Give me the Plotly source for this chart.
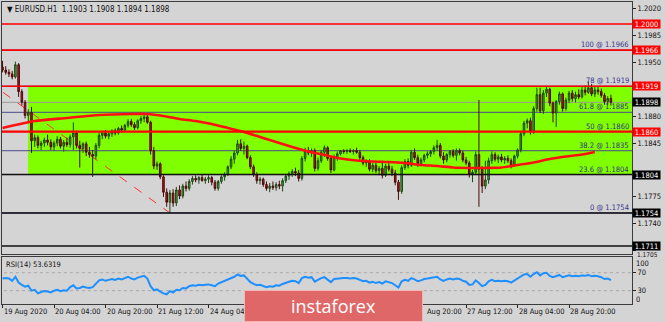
import plotly.graph_objects as go

# ---------------- data ----------------
bars = list(range(190))

opens = [
    1.1944,1.1940,1.1937,1.1935,1.1931,1.1947,1.1912,1.1898,1.1881,1.1885,
    1.1848,1.1852,1.1842,1.1845,1.1849,1.1846,1.1840,1.1845,1.1850,1.1841,
    1.1846,1.1843,1.1853,1.1858,1.1842,1.1838,1.1844,1.1833,1.1830,1.1828,
    1.1842,1.1855,1.1858,1.1854,1.1857,1.1861,1.1858,1.1864,1.1862,1.1868,
    1.1873,1.1869,1.1865,1.1874,1.1877,1.1879,1.1872,1.1835,1.1815,1.1818,
    1.1801,1.1781,1.1768,1.1780,1.1767,1.1784,1.1776,1.1789,1.1786,1.1795,
    1.1799,1.1797,1.1800,1.1796,1.1798,1.1800,1.1794,1.1786,1.1795,1.1801,
    1.1804,1.1814,1.1824,1.1832,1.1844,1.1838,1.1841,1.1826,1.1814,1.1804,
    1.1796,1.1798,1.1791,1.1786,1.1789,1.1787,1.1791,1.1789,1.1796,1.1802,
    1.1805,1.1808,1.1806,1.1799,1.1825,1.1835,1.1832,1.1835,1.1812,1.1822,
    1.1833,1.1839,1.1825,1.1810,1.1826,1.1831,1.1835,1.1834,1.1835,1.1834,
    1.1835,1.1833,1.1826,1.1819,1.1821,1.1811,1.1816,1.1809,1.1812,1.1803,
    1.1815,1.1811,1.1806,1.1794,1.1782,1.1813,1.1821,1.1816,1.1833,1.1826,
    1.1818,1.1823,1.1829,1.1831,1.1834,1.1839,1.1842,1.1828,1.1823,1.1830,
    1.1834,1.1829,1.1835,1.1832,1.1823,1.1819,1.1804,1.1807,1.1830,1.1811,
    1.1789,1.1797,1.1822,1.1830,1.1824,1.1827,1.1823,1.1825,1.1822,1.1816,
    1.1828,1.1836,1.1857,1.1871,1.1874,1.1860,1.1890,1.1908,1.1887,1.1910,
    1.1915,1.1897,1.1884,1.1899,1.1909,1.1890,1.1901,1.1910,1.1903,1.1908,
    1.1905,1.1914,1.1911,1.1917,1.1909,1.1914,1.1912,1.1907,1.1899,1.1903,
]
highs = [
    1.1952,1.1945,1.1941,1.1939,1.1951,1.1949,1.1915,1.1901,1.1889,1.1892,
    1.1856,1.1855,1.1848,1.1852,1.1856,1.1850,1.1848,1.1854,1.1853,1.1849,
    1.1852,1.1856,1.1872,1.1861,1.1848,1.1846,1.1847,1.1840,1.1836,1.1845,
    1.1858,1.1861,1.1862,1.1860,1.1863,1.1864,1.1866,1.1868,1.1870,1.1876,
    1.1876,1.1872,1.1876,1.1880,1.1883,1.1882,1.1874,1.1840,1.1821,1.1820,
    1.1803,1.1786,1.1784,1.1785,1.1788,1.1790,1.1792,1.1795,1.1798,1.1802,
    1.1803,1.1802,1.1804,1.1801,1.1803,1.1802,1.1797,1.1797,1.1803,1.1807,
    1.1816,1.1828,1.1835,1.1849,1.1850,1.1847,1.1843,1.1829,1.1817,1.1807,
    1.1801,1.1800,1.1795,1.1793,1.1795,1.1794,1.1796,1.1799,1.1805,1.1808,
    1.1811,1.1813,1.1810,1.1828,1.1839,1.1840,1.1838,1.1838,1.1826,1.1836,
    1.1842,1.1841,1.1828,1.1830,1.1834,1.1836,1.1837,1.1837,1.1838,1.1837,
    1.1839,1.1836,1.1829,1.1824,1.1824,1.1819,1.1820,1.1815,1.1822,1.1818,
    1.1819,1.1815,1.1810,1.1797,1.1816,1.1824,1.1825,1.1836,1.1838,1.1830,
    1.1826,1.1831,1.1834,1.1836,1.1842,1.1849,1.1845,1.1833,1.1832,1.1836,
    1.1837,1.1838,1.1838,1.1835,1.1827,1.1822,1.1810,1.1834,1.1901,1.1815,
    1.1822,1.1826,1.1834,1.1833,1.1830,1.1831,1.1828,1.1829,1.1825,1.1830,
    1.1838,1.1860,1.1874,1.1877,1.1878,1.1893,1.1917,1.1917,1.1914,1.1918,
    1.1917,1.1899,1.1901,1.1912,1.1911,1.1904,1.1913,1.1914,1.1912,1.1915,
    1.1918,1.1920,1.1925,1.1922,1.1918,1.1919,1.1916,1.1910,1.1906,1.1908,
]
lows = [
    1.1937,1.1934,1.1931,1.1928,1.1929,1.1905,1.1894,1.1877,1.1873,1.1832,
    1.1840,1.1838,1.1836,1.1840,1.1842,1.1836,1.1835,1.1841,1.1838,1.1834,
    1.1840,1.1839,1.1836,1.1838,1.1813,1.1832,1.1828,1.1826,1.1801,1.1824,
    1.1838,1.1850,1.1851,1.1850,1.1853,1.1855,1.1856,1.1859,1.1860,1.1865,
    1.1866,1.1862,1.1863,1.1870,1.1872,1.1870,1.1830,1.1811,1.1810,1.1798,
    1.1775,1.1762,1.1754,1.1762,1.1763,1.1772,1.1773,1.1782,1.1783,1.1791,
    1.1794,1.1792,1.1795,1.1792,1.1793,1.1790,1.1783,1.1783,1.1792,1.1796,
    1.1802,1.1811,1.1818,1.1829,1.1835,1.1830,1.1824,1.1811,1.1801,1.1792,
    1.1791,1.1788,1.1783,1.1781,1.1784,1.1783,1.1785,1.1782,1.1793,1.1797,
    1.1801,1.1802,1.1795,1.1796,1.1821,1.1829,1.1827,1.1808,1.1809,1.1819,
    1.1827,1.1822,1.1806,1.1808,1.1822,1.1829,1.1831,1.1831,1.1832,1.1830,
    1.1831,1.1823,1.1816,1.1814,1.1808,1.1807,1.1806,1.1803,1.1799,1.1801,
    1.1808,1.1802,1.1790,1.1771,1.1779,1.1810,1.1812,1.1814,1.1823,1.1814,
    1.1815,1.1820,1.1825,1.1827,1.1830,1.1835,1.1825,1.1818,1.1820,1.1826,
    1.1826,1.1822,1.1829,1.1820,1.1816,1.1800,1.1794,1.1804,1.1762,1.1780,
    1.1785,1.1792,1.1818,1.1821,1.1819,1.1820,1.1818,1.1819,1.1812,1.1814,
    1.1825,1.1833,1.1854,1.1864,1.1856,1.1857,1.1886,1.1884,1.1883,1.1905,
    1.1893,1.1872,1.1866,1.1895,1.1886,1.1887,1.1897,1.1899,1.1898,1.1902,
    1.1903,1.1907,1.1909,1.1906,1.1905,1.1908,1.1904,1.1895,1.1894,1.1894,
]
closes = [
    1.1940,1.1937,1.1935,1.1931,1.1947,1.1912,1.1898,1.1881,1.1885,1.1848,
    1.1852,1.1842,1.1845,1.1849,1.1846,1.1840,1.1845,1.1850,1.1841,1.1846,
    1.1843,1.1853,1.1858,1.1842,1.1838,1.1844,1.1833,1.1830,1.1828,1.1842,
    1.1855,1.1858,1.1854,1.1857,1.1861,1.1858,1.1864,1.1862,1.1868,1.1873,
    1.1869,1.1865,1.1874,1.1877,1.1879,1.1872,1.1835,1.1815,1.1818,1.1801,
    1.1781,1.1768,1.1780,1.1767,1.1784,1.1776,1.1789,1.1786,1.1795,1.1799,
    1.1797,1.1800,1.1796,1.1798,1.1800,1.1794,1.1786,1.1795,1.1801,1.1804,
    1.1814,1.1824,1.1832,1.1844,1.1838,1.1841,1.1826,1.1814,1.1804,1.1796,
    1.1798,1.1791,1.1786,1.1789,1.1787,1.1791,1.1789,1.1796,1.1802,1.1805,
    1.1808,1.1806,1.1799,1.1825,1.1835,1.1832,1.1835,1.1812,1.1822,1.1833,
    1.1839,1.1825,1.1810,1.1826,1.1831,1.1835,1.1834,1.1835,1.1834,1.1835,
    1.1833,1.1826,1.1819,1.1821,1.1811,1.1816,1.1809,1.1812,1.1803,1.1815,
    1.1811,1.1806,1.1794,1.1782,1.1813,1.1821,1.1816,1.1833,1.1826,1.1818,
    1.1823,1.1829,1.1831,1.1834,1.1839,1.1842,1.1828,1.1823,1.1830,1.1834,
    1.1829,1.1835,1.1832,1.1823,1.1819,1.1804,1.1807,1.1830,1.1811,1.1789,
    1.1797,1.1822,1.1830,1.1824,1.1827,1.1823,1.1825,1.1822,1.1816,1.1828,
    1.1836,1.1857,1.1871,1.1874,1.1860,1.1890,1.1908,1.1887,1.1910,1.1915,
    1.1897,1.1884,1.1899,1.1909,1.1890,1.1901,1.1910,1.1903,1.1908,1.1905,
    1.1914,1.1911,1.1917,1.1909,1.1914,1.1912,1.1907,1.1899,1.1903,1.1898,
]
rsi = [
    57,58,57,52,61,48,43,39,41,30,
    32,24,27,29,28,26,30,32,29,31,
    30,38,42,35,36,39,37,36,38,46,
    53,55,52,54,56,54,57,55,58,61,
    57,55,59,61,63,57,40,31,33,28,
    24,22,29,26,32,31,36,35,40,42,
    41,43,42,43,44,42,40,46,49,51,
    55,58,61,66,63,64,56,49,45,42,
    43,41,38,40,39,42,41,45,48,50,
    52,51,47,58,61,59,60,50,54,58,
    60,54,49,56,57,58,58,58,57,58,
    57,54,51,52,48,50,47,49,46,51,
    49,47,42,37,51,54,52,58,55,51,
    53,56,57,58,60,61,55,52,55,57,
    55,57,56,52,50,43,44,53,47,40,
    43,51,54,51,52,51,52,51,48,53,
    56,62,66,67,61,67,71,64,69,70,
    63,60,63,65,60,62,64,62,63,62,
    64,63,65,62,63,62,60,56,57,53.63,
]
ma_bar = [0,10,20,30,40,45,50,55,60,65,70,75,80,85,90,95,100,105,110,115,
          120,125,130,135,140,145,150,155,160,165,170,175,180,184]
ma_val = [1.18646,1.18737,1.18777,1.18816,1.18829,1.18829,1.18803,1.18764,1.18737,1.18698,
          1.18646,1.18594,1.18529,1.18464,1.18399,1.18340,1.18295,1.18249,1.18223,1.18210,
          1.18204,1.18191,1.18165,1.18152,1.18132,1.18126,1.18126,1.18132,1.18165,1.18197,
          1.18243,1.18275,1.18301,1.18334]

fib_pct = ["100", "78", "61.8", "50", "38.2", "23.6", "0"]
fib_price = [1.1966, 1.1919, 1.1885, 1.1860, 1.1835, 1.1804, 1.1754]
fib_anchor_bar = [-18, 52]
fib_anchor_price = [1.1966, 1.1754]
red_levels = [1.2000, 1.1966, 1.1919, 1.1860]
black_levels = [1.1804, 1.1754, 1.1711]
current_price = 1.1898
zone_start_bar = 7.9
zone_top, zone_bottom = 1.1919, 1.1804
tag_levels = [1.2000, 1.1966, 1.1919, 1.1898, 1.1860, 1.1804, 1.1754, 1.1711]
tag_red = [True, True, True, False, True, False, False, False]
price_ticks = [1.2020, 1.1985, 1.1950, 1.1880, 1.1845, 1.1775, 1.1740, 1.1705]
low_tick = 1.1705   # partly covered by the 1.1711 tag, drawn just below it
# labels partly hidden by the watermark are shown as the visible part only
time_ticks = [0, 16, 32, 48, 64, 80, 96, 112, 128, 144, 160, 176]
time_label_bar = [0, 16, 32, 48, 64, 131.5, 144, 160, 176]
time_labels = ["19 Aug 2020", "20 Aug 04:00", "20 Aug 20:00", "21 Aug 12:00", "24 Aug 04",
               "Aug 20:00", "27 Aug 12:00", "28 Aug 04:00", "28 Aug 20:00"]
rsi_levels = [70, 30]
rsi_edge_labels = [("100", 92), ("0", 11)]
title_text = "EURUSD.H1  1.1903 1.1908 1.1894 1.1898"
rsi_text = "RSI(14) 53.6319"

# ---------------- style ----------------
BG = "#d4d4d4"
FONT = "DejaVu Sans Condensed, DejaVu Sans, sans-serif"
FS = 7.5
MAIN_DOM = [0.1656, 1.0]
RSI_DOM = [0.0, 0.1556]
XR = [-0.16, 195.55]

fig = go.Figure()

fig.add_trace(go.Candlestick(
    x=bars, open=opens, high=highs, low=lows, close=closes,
    xaxis="x", yaxis="y",
    increasing=dict(fillcolor="#4aa33c", line=dict(color="#1d4a14", width=1)),
    decreasing=dict(fillcolor="#c8141a", line=dict(color="#4a0a0a", width=1)),
    whiskerwidth=0, hoverinfo="skip", showlegend=False,
))
fig.add_trace(go.Scatter(
    x=ma_bar, y=ma_val, mode="lines", xaxis="x", yaxis="y",
    line=dict(color="#ff1010", width=2.6, shape="spline", smoothing=0.6),
    hoverinfo="skip", showlegend=False,
))
fig.add_trace(go.Scatter(
    x=bars, y=rsi, mode="lines", xaxis="x2", yaxis="y2",
    line=dict(color="#1e8fff", width=2),
    hoverinfo="skip", showlegend=False,
))

shapes = []
def hline(p, color, width, layer, dash="solid"):
    shapes.append(dict(type="line", xref="x", yref="y", x0=XR[0] - 5, x1=XR[1] + 5,
                       y0=p, y1=p, line=dict(color=color, width=width, dash=dash),
                       layer=layer))

shapes.append(dict(type="rect", xref="x", yref="y", x0=zone_start_bar, x1=XR[1] + 5,
                   y0=zone_bottom, y1=zone_top, fillcolor="#80ff00", line=dict(width=0),
                   layer="below"))
shapes.append(dict(type="line", xref="x", yref="y", x0=fib_anchor_bar[0], x1=fib_anchor_bar[1],
                   y0=fib_anchor_price[0], y1=fib_anchor_price[1],
                   line=dict(color="#ff3030", width=1, dash="dash"), layer="below"))
for p in fib_price:
    hline(p, "#4b4b8c", 1, "below")
hline(current_price, "#9a9a9a", 1, "below")
for p in red_levels:
    hline(p, "#ff0000", 2.2 if p == 1.1860 else 1.6, "above")
for p in black_levels:
    hline(p, "#111111", 1.6, "above")
for lv in rsi_levels:
    shapes.append(dict(type="line", xref="x2", yref="y2", x0=XR[0] - 5, x1=XR[1] + 5,
                       y0=lv, y1=lv, line=dict(color="#a8a8a8", width=1, dash="dot"),
                       layer="below"))

ann = []
ann.append(dict(xref="paper", yref="paper", x=0, y=1, xanchor="left", yanchor="top",
                xshift=3, yshift=-1, showarrow=False,
                text="\u25bc " + title_text, font=dict(family=FONT, size=8, color="#111")))
ann.append(dict(xref="paper", yref="paper", x=0, y=RSI_DOM[1], xanchor="left", yanchor="top",
                xshift=2, yshift=-1, showarrow=False,
                text=rsi_text, font=dict(family=FONT, size=FS, color="#111")))
for pct, p in zip(fib_pct, fib_price):
    ann.append(dict(xref="paper", yref="y", x=1, y=p, xanchor="right", yanchor="bottom",
                    xshift=-1, yshift=-1, showarrow=False,
                    text=f"{pct} @ {p:.4f}", font=dict(family=FONT, size=FS, color="#34348c")))
ann.append(dict(xref="paper", yref="y", x=1, y=low_tick, xanchor="left", yanchor="middle",
                xshift=4, yshift=-3.4, showarrow=False, text=f"{low_tick:.4f}",
                height=7, borderpad=0,
                font=dict(family=FONT, size=6.5, color="#111")))
for p, red in zip(tag_levels, tag_red):
    ann.append(dict(xref="paper", yref="y", x=1, y=p, xanchor="left", yanchor="middle",
                    xshift=0, showarrow=False, text=f"{p:.4f}", height=8,
                    bgcolor="#ff0000" if red else "#000000", borderpad=0, width=27,
                    font=dict(family=FONT, size=FS, color="#ffffff")))
for txt, val in rsi_edge_labels:
    ann.append(dict(xref="paper", yref="y2", x=1, y=val, xanchor="left", yanchor="middle",
                    xshift=3, showarrow=False, text=txt, height=8, borderpad=0,
                    font=dict(family=FONT, size=FS, color="#111")))
for t, lab in zip(time_label_bar, time_labels):
    ann.append(dict(xref="x2", yref="paper", x=t, y=-0.024, xanchor="left", yanchor="middle",
                    xshift=-1, showarrow=False, text=lab,
                    font=dict(family=FONT, size=FS, color="#111")))
ann.append(dict(xref="paper", yref="paper", x=0.526, y=0.0464, xanchor="center", yanchor="top",
                showarrow=False, text="instaforex", width=177, height=30, borderpad=0,
                bgcolor="#e06767", bordercolor="#f3b5b5", borderwidth=1,
                font=dict(family="Open Sans, sans-serif", size=18, color="#ffffff")))

axis_line = dict(showline=True, mirror=True, linecolor="#3c3c3c", linewidth=1,
                 showgrid=False, zeroline=False)

fig.update_layout(
    width=665, height=322,
    margin=dict(l=2, r=33, t=2, b=18),
    paper_bgcolor=BG, plot_bgcolor=BG,
    showlegend=False,
    shapes=shapes, annotations=ann,
    font=dict(family=FONT, size=FS, color="#111"),
    xaxis=dict(domain=[0, 1], anchor="y", range=XR, showticklabels=False,
               ticks="", rangeslider=dict(visible=False), **axis_line),
    yaxis=dict(domain=MAIN_DOM, anchor="x", side="right", range=[1.17006, 1.20286],
               tickvals=price_ticks,
               ticktext=["" if v == low_tick else f"{v:.4f}" for v in price_ticks],
               ticks="outside", ticklen=3, tickcolor="#222",
               tickfont=dict(family=FONT, size=FS, color="#111"), **axis_line),
    xaxis2=dict(domain=[0, 1], anchor="y2", matches="x", range=XR,
                tickvals=time_ticks, showticklabels=False, ticks="outside", ticklen=3,
                tickcolor="#222", **axis_line),
    yaxis2=dict(domain=RSI_DOM, anchor="x2", side="right", range=[0.4, 104.9],
                tickvals=rsi_levels, ticktext=[str(v) for v in rsi_levels],
                ticks="outside", ticklen=3, tickcolor="#222",
                tickfont=dict(family=FONT, size=FS, color="#111"), **axis_line),
)

fig.write_html("out.html")
